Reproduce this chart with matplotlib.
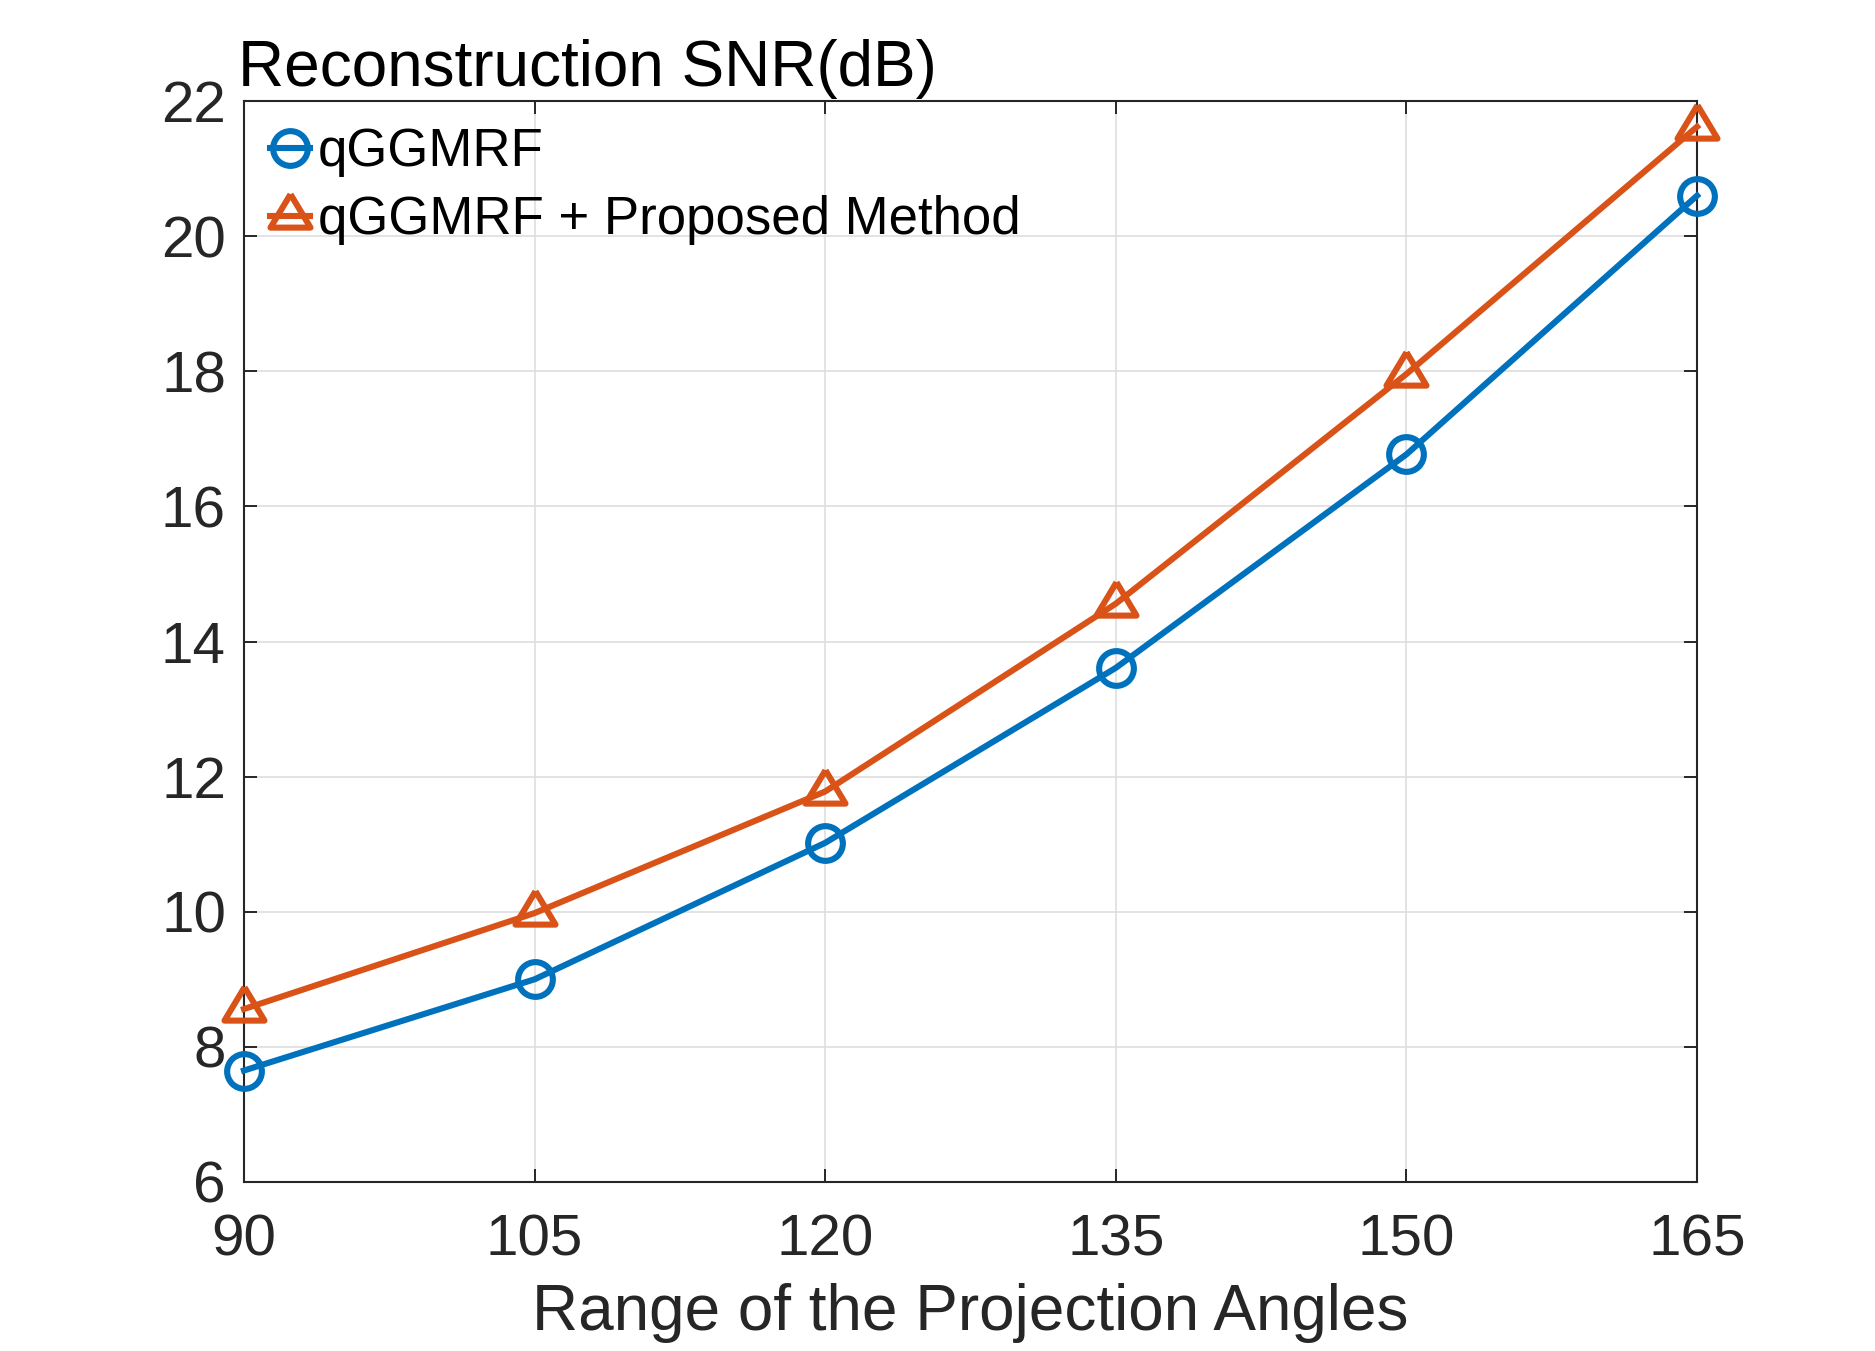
import matplotlib
matplotlib.use("Agg")
import matplotlib.pyplot as plt

angles = [90, 105, 120, 135, 150, 165]
snr_qggmrf = [7.65, 9.0, 11.02, 13.61, 16.77, 20.6]
snr_proposed = [8.56, 9.98, 11.78, 14.56, 17.96, 21.62]
label_a = "qGGMRF"
label_b = "qGGMRF + Proposed Method"
yticks = [6, 8, 10, 12, 14, 16, 18, 20, 22]

plt.rcParams['font.family'] = ['Liberation Sans', 'DejaVu Sans']
grey = '#262626'

# MATLAB-like wide triangle, centred on its centroid
tri = [(0.0, 1.333), (-1.2, -0.667), (1.2, -0.667), (0.0, 1.333)]

fig = plt.figure(figsize=(18.75, 13.51), dpi=100)
ax = fig.add_axes([0.1301, 0.1251, 0.9051 - 0.1301, 0.9252 - 0.1251])

ax.plot(angles, snr_qggmrf, color='#0072BD', lw=4.4, marker='o', ms=25,
        mew=4.4, mfc='none', label=label_a, clip_on=False, zorder=3)
ax.plot(angles, snr_proposed, color='#D95319', lw=4.4, marker=tri, ms=32,
        mew=4.4, mfc='none', label=label_b, clip_on=False, zorder=3)

ax.set_xlim(90, 165)
ax.set_ylim(6, 22)
ax.set_xticks(angles)
ax.set_yticks(yticks)
ax.grid(True, color='#dedede', lw=1.2)
ax.set_axisbelow(True)
for s in ax.spines.values():
    s.set_color(grey)
    s.set_linewidth(1.5)
ax.tick_params(direction='in', length=9.5, width=1.4, color=grey,
               labelcolor=grey, labelsize=42, top=True, right=True)
ax.tick_params(axis='y', pad=13)
ax.tick_params(axis='x', pad=23)

ax.set_xlabel("Range of the Projection Angles", fontsize=46, color=grey, labelpad=11)
fig.text(238 / 1875, 1 - 86 / 1351, "Reconstruction SNR(dB)", fontsize=46,
         color='black', ha='left', va='baseline')

leg = ax.legend(loc='upper left', frameon=False, fontsize=38, handlelength=0.75,
                handletextpad=0.15, borderaxespad=0.2, labelspacing=0.34,
                borderpad=0.3)
for t in leg.get_texts():
    t.set_color('black')

fig.savefig("out.png", dpi=100, facecolor='white')
